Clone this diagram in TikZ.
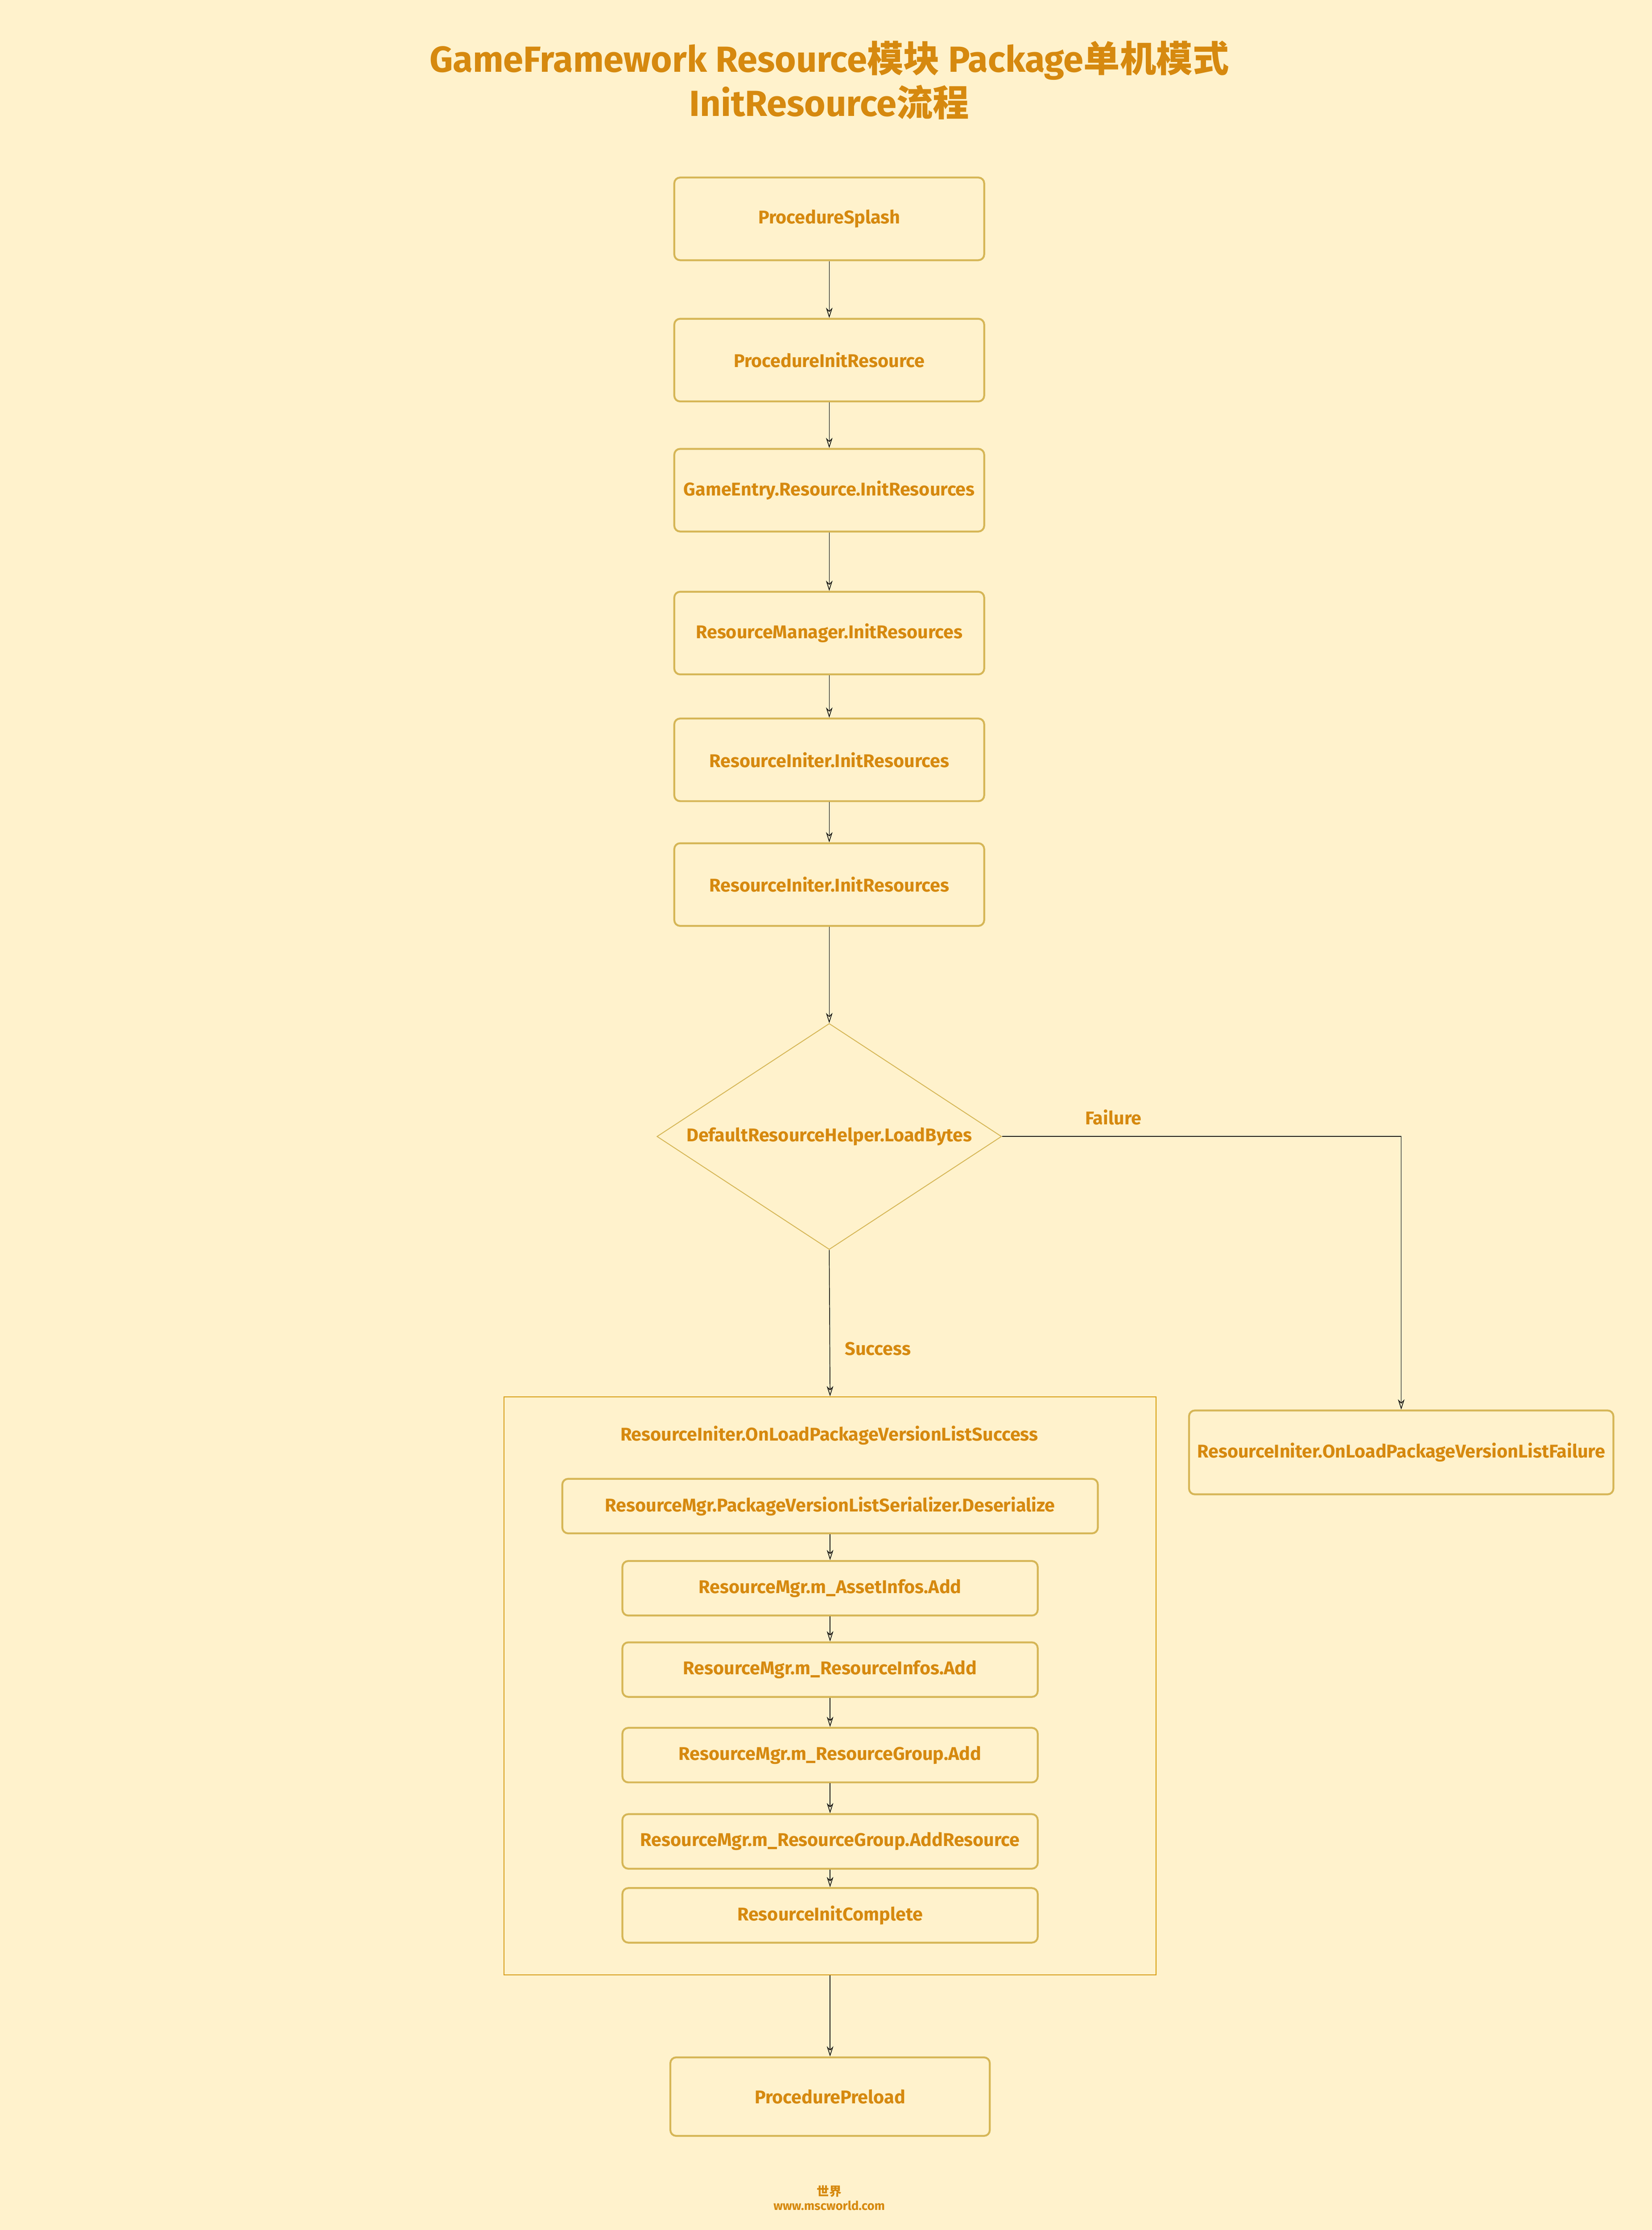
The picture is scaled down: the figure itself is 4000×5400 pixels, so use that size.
\documentclass[tikz,border=0pt]{standalone}
\usepackage{fontspec}
\setmainfont{Fira Sans}
\newfontfamily\cjk{Noto Sans CJK SC}
\usepackage{tikz}
\usetikzlibrary{arrows.meta,shapes.geometric}
\definecolor{bgc}{HTML}{FFF2CC}
\definecolor{boxc}{HTML}{D6B656}
\definecolor{txtc}{HTML}{D6890F}
\definecolor{contc}{HTML}{D79B00}

\begin{document}
\begin{tikzpicture}[x=0.01cm,y=-0.01cm,
  box/.style={draw=boxc,line width=1.3pt,rounded corners=4pt,minimum width=7.5cm,minimum height=2cm,text=txtc,font=\bfseries\fontsize{12.7}{15}\selectfont},
  sbox/.style={box,minimum width=10.05cm,minimum height=1.32cm},
  lbl/.style={text=txtc,font=\bfseries\fontsize{12.7}{15}\selectfont},
  arr/.style={-{Stealth[open,length=7pt,width=4.5pt]},line width=0.45pt,black}]
\fill[bgc](0,0) rectangle (4000,5400);
\node[align=center,text=txtc,font=\bfseries\fontsize{25}{30.4}\selectfont] (title) at (2008,194) {GameFramework Resource{\cjk 模块} Package{\cjk 单机模式}\\InitResource{\cjk 流程}};
% main chain
\foreach \n/\y/\t in {splash/530/ProcedureSplash,initres/872/ProcedureInitResource,entry/1187/GameEntry.Resource.InitResources,mgr/1533/ResourceManager.InitResources,initer/1840/ResourceIniter.InitResources,initerb/2142/ResourceIniter.InitResources}
  {\node[box] (\n) at (2008,\y) {\t};}
\foreach \a/\b in {splash/initres,initres/entry,entry/mgr,mgr/initer,initer/initerb}
  {\draw[arr] (\a) -- (\b);}
\node[diamond,draw=boxc,line width=0.6pt,aspect=1.5,inner sep=0pt,minimum width=8.34cm,minimum height=5.47cm,text=txtc,font=\bfseries\fontsize{12.7}{15}\selectfont] (dia) at (2008,2752) {DefaultResourceHelper.LoadBytes};
\draw[arr] (initerb) -- (dia);
% failure branch
\node[box,minimum width=10.27cm,minimum height=2.03cm] (fail) at (3393,3517) {ResourceIniter.OnLoadPackageVersionListFailure};
\draw[arr] (dia.east) -| (fail.north);
\node[lbl] (flab) at (2696,2705) {Failure};
% success group
\node[draw=contc,line width=0.6pt,minimum width=15.78cm,minimum height=13.99cm] (succ) at (2010,4082) {};
\node[lbl] (stitle) at (2008,3476) {ResourceIniter.OnLoadPackageVersionListSuccess};
\draw[arr] (dia.south) -- (succ.north);
\node[lbl] (slab) at (2126,3266) {Success};
\node[sbox,minimum width=12.96cm] (deser) at (2010,3647) {ResourceMgr.PackageVersionListSerializer.Deserialize};
\foreach \n/\y/\t in {asset/3846/ResourceMgr.m\_AssetInfos.Add,rinfo/4043/ResourceMgr.m\_ResourceInfos.Add,rgroup/4250/ResourceMgr.m\_ResourceGroup.Add,addres/4459/ResourceMgr.m\_ResourceGroup.AddResource,done/4638/ResourceInitComplete}
  {\node[sbox] (\n) at (2010,\y) {\t};}
\foreach \a/\b in {deser/asset,asset/rinfo,rinfo/rgroup,rgroup/addres,addres/done}
  {\draw[arr] (\a) -- (\b);}
\node[box,minimum width=7.73cm,minimum height=1.9cm] (preload) at (2010,5077) {ProcedurePreload};
\draw[arr] (succ.south) -- (preload);
\node[align=center,text=txtc,font=\bfseries\fontsize{8.5}{10}\selectfont] (foot) at (2008,5322) {{\cjk 世界}\\www.mscworld.com};
\end{tikzpicture}
\end{document}
